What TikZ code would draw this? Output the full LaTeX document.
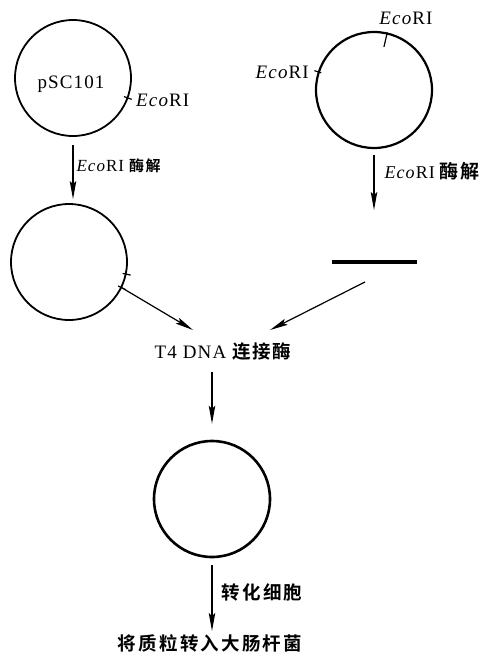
\documentclass[tikz,border=0pt]{standalone}
\usepackage{fontspec}
\setmainfont{Liberation Serif}[LetterSpace=6]
\newfontfamily\cjk{Noto Sans CJK SC}[BoldFont={Noto Sans CJK SC Bold}]
\usetikzlibrary{arrows.meta,calc}
\newcommand\eco{\textit{Eco}RI}
\newcommand\cj[2][18.5]{{\fontsize{#1}{22}\selectfont\cjk\bfseries\addfontfeature{LetterSpace=10}#2}}
\begin{document}
\begin{tikzpicture}[x=1pt,y=-1pt,
  circ/.style={draw,circle,minimum size=116pt,inner sep=0pt,line width=1.8pt},
  arr/.style={-{Stealth[length=18pt,width=6.5pt,inset=3pt]},line width=1.2pt},
  tickmark/.style={line width=1.2pt},
  lab/.style={font=\fontsize{19}{22}\selectfont,inner sep=1pt},
  cjklab/.style={font=\fontsize{18.5}{22}\selectfont\cjk\bfseries\addfontfeature{LetterSpace=12},inner sep=1pt}]
\useasboundingbox (0,0) rectangle (489,656);
% left plasmid
\node[circ] (c1) at (73,78) {};
\node[lab] (p1) at (71,84) {pSC101};
\draw[tickmark] ($(c1.center)!0.92!(c1.-20)$) -- ($(c1.center)!1.06!(c1.-20)$);
\node[lab,anchor=west] (e1) at (135,100) {\eco};
% second left circle
\node[circ] (c2) at (69,262) {};
\draw[tickmark] ($(c2.center)!0.93!(c2.-12)$) -- ($(c2.center)!1.07!(c2.-12)$);
\draw[tickmark] ($(c2.center)!0.93!(c2.-26)$) -- ($(c2.center)!1.07!(c2.-26)$);
\draw[arr,shorten <=8pt,shorten >=4pt] (c1.south) -- (c1.south |- c2.north)
  node[midway,right=2pt,lab,font=\fontsize{17}{20}\selectfont,yshift=4pt] {\eco\hspace{5pt}\cj[15]{酶解}};
% right plasmid
\node[circ,line width=2.2pt] (c3) at (374,90) {};
\draw[tickmark] ($(c3.center)!0.75!(c3.77)$) -- (c3.77);
\draw[tickmark] ($(c3.center)!0.94!(c3.162)$) -- ($(c3.center)!1.06!(c3.162)$);
\node[lab] (e2) at (406,18) {\eco};
\node[lab,anchor=east] (e3) at (310,72) {\eco};
% fragment
\node[fill=black,minimum width=85pt,minimum height=3.5pt,inner sep=0pt] (frag) at (374,262) {};
\draw[arr,shorten <=6pt,shorten >=50pt] (c3.south) -- (c3.south |- frag.north)
  node[pos=0.2,right=9pt,lab,font=\fontsize{18}{20}\selectfont] {\eco\hspace{5pt}\cj[19]{酶解}};
% ligase
\node[lab] (t4) at (223,352) {T4 DNA \cj{连接酶}};
\coordinate (tl) at ([xshift=-30pt,yshift=12pt]t4.north);
\coordinate (tr) at ([xshift=47pt,yshift=12pt]t4.north);
\draw[arr] (c2.-26) -- (tl);
\draw[arr] ([xshift=-9pt,yshift=-18pt]frag.south) -- (tr);
% recombinant
\node[circ,line width=2.6pt] (c4) at (212,499) {};
\draw[arr,shorten <=10pt,shorten >=16pt] (c4.north |- t4.south) -- (c4.north);
% bottom
\node[cjklab] (bt) at (210,643) {将质粒转入大肠杆菌};
\draw[arr,shorten <=7pt,shorten >=2pt] (c4.south) -- (bt.north -| c4.south)
  node[midway,right=8pt,cjklab,yshift=3pt] {转化细胞};
\end{tikzpicture}
\end{document}
